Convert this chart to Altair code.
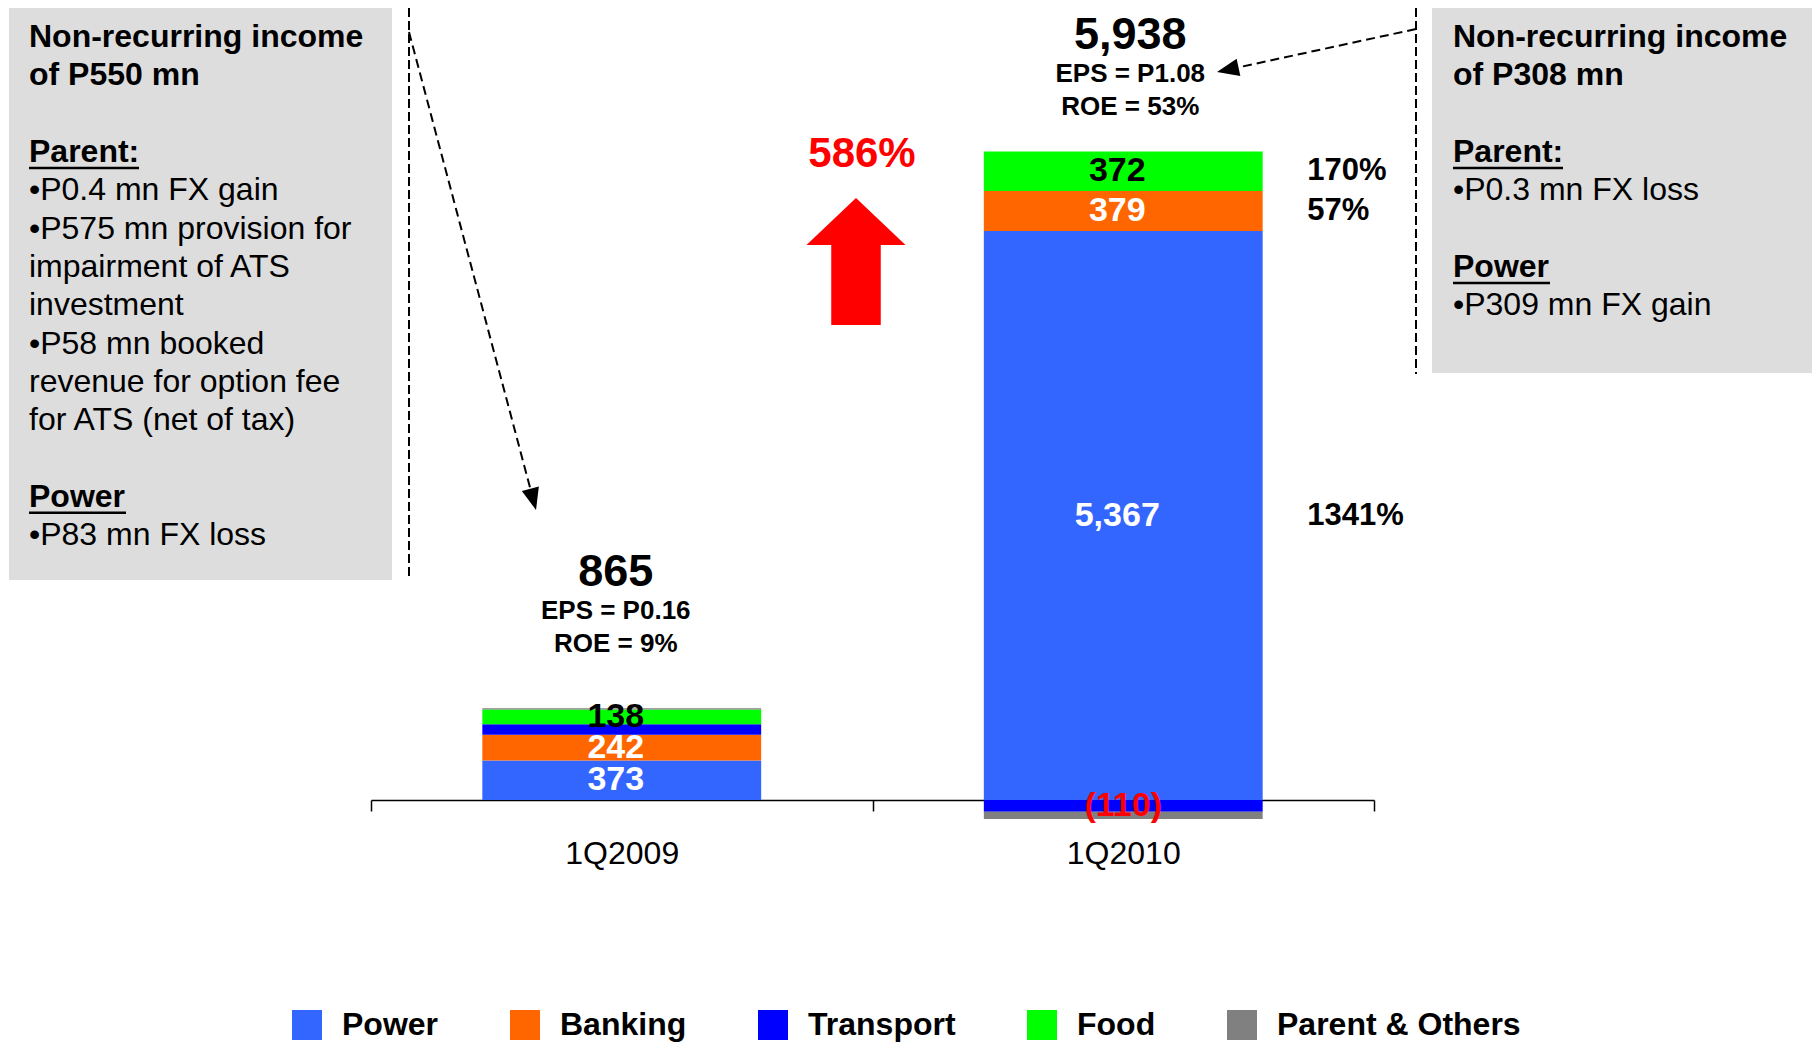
import math
import altair as alt
import pandas as pd

# ---------------- data ----------------
quarters = ["1Q2009", "1Q2010"]
segments = ["Power", "Banking", "Transport", "Food", "Parent & Others"]
values_1q2009 = [373, 242, 100, 138, 12]
values_1q2010 = [5367, 379, -110, 372, -70]
totals = [865, 5938]
eps_labels = ["EPS = P0.16", "EPS = P1.08"]
roe_labels = ["ROE = 9%", "ROE = 53%"]
growth_1q2010 = ["1341%", "57%", "", "170%", ""]
total_growth = "586%"
segment_colors = ["#3366FF", "#FF6600", "#0000FF", "#00FF00", "#808080"]

left_note = [
    "Non-recurring income", "of P550 mn", "",
    "Parent:", "\u2022P0.4 mn FX gain", "\u2022P575 mn provision for",
    "impairment of ATS", "investment", "\u2022P58 mn booked",
    "revenue for option fee", "for ATS (net of tax)", "",
    "Power", "\u2022P83 mn FX loss",
]
right_note = [
    "Non-recurring income", "of P308 mn", "",
    "Parent:", "\u2022P0.3 mn FX loss", "",
    "Power", "\u2022P309 mn FX gain",
]
note_bold = {"Non-recurring income", "of P550 mn", "of P308 mn", "Parent:", "Power"}
note_underlined = {"Parent:", "Power"}

# ---------------- tables ----------------
rows = []
for q, vals in zip(quarters, [values_1q2009, values_1q2010]):
    for i, (s, v) in enumerate(zip(segments, vals)):
        rows.append({"quarter": q, "segment": s, "value": v, "order": i,
                     "growth": growth_1q2010[i] if q == "1Q2010" else ""})
df = pd.DataFrame(rows)
df_tot = pd.DataFrame({"quarter": quarters, "total": totals,
                       "eps": eps_labels, "roe": roe_labels})
dummy = pd.DataFrame({"k": [0]})

FONT = "Liberation Sans"
OFF = 8  # page margin

x_enc = alt.X(
    "quarter:N",
    sort=quarters,
    scale=alt.Scale(domain=quarters, range=[363, 1366], paddingInner=0, paddingOuter=0),
    axis=alt.Axis(title=None, labelAngle=0, labelFont=FONT, labelFontSize=32, labelColor="black",
                  domainColor="black", domainWidth=1.5, tickColor="black", tickWidth=1.5,
                  tickSize=11, tickBand="extent", labelPadding=27, grid=False),
)
y_scale = alt.Scale(domain=[0, 7472], nice=False, zero=True)

base = alt.Chart(df).transform_stack(
    stack="value", groupby=["quarter"], as_=["v0", "v1"], offset="zero",
    sort=[alt.SortField("order", order="ascending")],
).transform_calculate(
    mid="(datum.v0 + datum.v1) / 2",
    label="datum.value < 0 ? '(' + format(-datum.value, ',') + ')' : format(datum.value, ',')",
)

bars = base.mark_bar(width=alt.RelativeBandSize(0.556)).encode(
    x=x_enc,
    y=alt.Y("v0:Q", scale=y_scale, axis=None),
    y2="v1:Q",
    color=alt.Color(
        "segment:N",
        scale=alt.Scale(domain=segments, range=segment_colors),
        legend=alt.Legend(orient="none", legendX=283, legendY=1001, direction="horizontal",
                          title=None, symbolType="square", symbolSize=900, symbolStrokeWidth=0,
                          symbolOpacity=1, labelFont=FONT, labelFontSize=32, labelFontWeight="bold",
                          labelColor="black", labelOffset=19, columnPadding=70, gridAlign="none",
                          padding=0, labelLimit=500),
    ),
)


def seg_labels(filter_expr, color, dx=-6):
    return base.transform_filter(filter_expr).mark_text(
        font=FONT, fontSize=34, fontWeight="bold", color=color, baseline="middle", align="center",
        dx=dx
    ).encode(x=x_enc, y=alt.Y("mid:Q", scale=y_scale, axis=None), text="label:N")


lab_white = seg_labels("datum.segment == 'Power' || datum.segment == 'Banking'", "white")
lab_black = seg_labels("datum.segment == 'Food'", "black")
lab_red = seg_labels("datum.segment == 'Transport' && datum.value < 0", "#FF0000", dx=0)

growth_text = base.transform_filter("datum.growth != ''").mark_text(
    font=FONT, fontSize=31, fontWeight="bold", color="black", baseline="middle", align="left", dx=184
).encode(x=x_enc, y=alt.Y("mid:Q", scale=y_scale, axis=None), text="growth:N")

tot_dx = alt.ExprRef("datum.quarter == '1Q2009' ? -6 : 7")
tot_base = alt.Chart(df_tot).transform_calculate(tlabel="format(datum.total, ',')")
tot_num = tot_base.mark_text(font=FONT, fontSize=45, fontWeight="bold", color="black",
                             baseline="middle", dy=-136, dx=tot_dx).encode(
    x=x_enc, y=alt.Y("total:Q", scale=y_scale, axis=None), text="tlabel:N")
tot_eps = tot_base.mark_text(font=FONT, fontSize=26, fontWeight="bold", color="black",
                             baseline="middle", dy=-97, dx=tot_dx).encode(
    x=x_enc, y=alt.Y("total:Q", scale=y_scale, axis=None), text="eps:N")
tot_roe = tot_base.mark_text(font=FONT, fontSize=26, fontWeight="bold", color="black",
                             baseline="middle", dy=-64, dx=tot_dx).encode(
    x=x_enc, y=alt.Y("total:Q", scale=y_scale, axis=None), text="roe:N")


# ---------------- annotations ----------------
def rect(x1, y1, x2, y2, color):
    return alt.Chart(dummy).mark_rect(color=color).encode(
        x=alt.value(x1 - OFF), x2=alt.value(x2 - OFF),
        y=alt.value(max(y1 - OFF, 0)), y2=alt.value(y2 - OFF))


def line(x1, y1, x2, y2, width=2, dash=None):
    kw = {"strokeDash": dash} if dash else {}
    return alt.Chart(dummy).mark_rule(color="black", strokeWidth=width, **kw).encode(
        x=alt.value(x1 - OFF), y=alt.value(max(y1 - OFF, 0)),
        x2=alt.value(x2 - OFF), y2=alt.value(y2 - OFF))


def text(t, x, y, size=32, weight="normal", color="black", align="left"):
    return alt.Chart(dummy).mark_text(text=t, font=FONT, fontSize=size, fontWeight=weight,
                                      color=color, align=align, baseline="middle").encode(
        x=alt.value(x - OFF), y=alt.value(y - OFF))


def arrow_head(x0, y0, tip_x, tip_y, length=22):
    dx, dy = tip_x - x0, tip_y - y0
    d = math.hypot(dx, dy)
    ux, uy = dx / d, dy / d
    ang = math.degrees(math.atan2(ux, -uy)) % 360
    cx, cy = tip_x - ux * length / 2, tip_y - uy * length / 2
    head = alt.Chart(dummy).mark_point(
        shape="M 0 -1 L 0.8 1 L -0.8 1 Z", filled=True, color="black", opacity=1,
        strokeWidth=0, size=length * length, angle=ang).encode(
        x=alt.value(cx - OFF), y=alt.value(cy - OFF))
    shaft = line(x0, y0, tip_x - ux * length, tip_y - uy * length, width=2, dash=[9, 5])
    return [shaft, head]


ann = []
ann.append(rect(9, 6, 392, 580, "#DDDDDD"))
ann.append(rect(1432, 6, 1820, 373, "#DDDDDD"))
ann.append(line(409, 0, 409, 578, width=2, dash=[9, 4]))
ann.append(line(1416, 6, 1416, 374, width=2, dash=[9, 4]))
ann += arrow_head(409, 32, 536, 510)
ann += arrow_head(1416, 29, 1217, 72)

LINE0, LSTEP = 37.1, 38.3
for lines, x0 in [(left_note, 29), (right_note, 1453)]:
    for i, t in enumerate(lines):
        if not t:
            continue
        yc = LINE0 + LSTEP * i
        ann.append(text(t, x0, yc, 32, "bold" if t in note_bold else "normal"))
        if t in note_underlined:
            w = 110 if t == "Parent:" else 97
            ann.append(line(x0, yc + 16, x0 + w, yc + 16, width=2.5))

ann.append(text(total_growth, 862, 154, 42, "bold", "#FF0000", "center"))
ann.append(alt.Chart(dummy).mark_point(
    shape="M 0 -1 L 0.78 -0.26 L 0.39 -0.26 L 0.39 1 L -0.39 1 L -0.39 -0.26 L -0.78 -0.26 Z",
    filled=True, color="#FF0000", opacity=1, strokeWidth=0, size=127 * 127).encode(
    x=alt.value(856 - OFF), y=alt.value(261.5 - OFF)))

chart = alt.layer(
    *ann, bars, lab_white, lab_black, lab_red, growth_text, tot_num, tot_eps, tot_roe
).properties(
    width=1804, height=792,
    autosize=alt.AutoSizeParams(type="none"),
    padding={"left": 0, "top": 0, "right": 0, "bottom": 243},
).configure(font=FONT).configure_view(stroke=None)

chart.save("out.html", embed_options={"renderer": "svg", "actions": False})
